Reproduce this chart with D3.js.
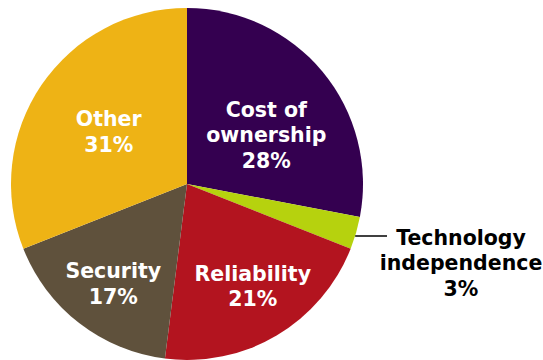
<!DOCTYPE html>
<html>
<head>
<meta charset="utf-8">
<script src="https://cdn.jsdelivr.net/npm/d3@7"></script>
<style>
  html, body { margin: 0; padding: 0; background: #fff; }
  svg { display: block; }
  text { font-family: "DejaVu Sans", Verdana, sans-serif; font-weight: bold; }
</style>
</head>
<body>
<svg id="chart" width="543" height="360"></svg>
<script>
// Share of respondents by main reason
const categories = ["Cost of ownership", "Technology independence", "Reliability", "Security", "Other"];
const values = [28, 3, 21, 17, 31];
const labelLines = [
  ["Cost of", "ownership", "28%"],
  ["Technology", "independence", "3%"],
  ["Reliability", "21%"],
  ["Security", "17%"],
  ["Other", "31%"]
];
const colors = ["#340050", "#b6d20e", "#b3141f", "#5f513c", "#eeb315"];

// Layout
const W = 543, H = 360;
const cx = 187, cy = 184, R = 176;
const fontSize = 20.5, lineH = 25.5, capH = 15;
// label nudges relative to the slice centroid (inside labels)
const nudges = [[-2, 18], null, [12, 11], [-9, 16], [9, 7]];

const svg = d3.select("#chart");
const g = svg.append("g").attr("transform", `translate(${cx},${cy})`);

const pie = d3.pie().sort(null).value(d => d)(values);
const arc = d3.arc().innerRadius(0).outerRadius(R);
const labelArc = d3.arc().innerRadius(R * 0.6).outerRadius(R * 0.6);

g.selectAll("path.slice")
  .data(pie)
  .join("path")
  .attr("class", "slice")
  .attr("d", arc)
  .attr("fill", (d, i) => colors[i]);

function drawLabel(lines, x, yc, fill) {
  const first = yc - ((lines.length - 1) * lineH + capH) / 2 + capH;
  const t = g.append("text")
    .attr("text-anchor", "middle")
    .attr("font-size", fontSize)
    .attr("fill", fill);
  lines.forEach((s, k) => {
    t.append("tspan").attr("x", x).attr("y", first + k * lineH).text(s);
  });
}

pie.forEach((d, i) => {
  if (nudges[i]) {
    const [x, y] = labelArc.centroid(d);
    drawLabel(labelLines[i], x + nudges[i][0], y + nudges[i][1], "#ffffff");
  } else {
    // outside label with a horizontal leader line
    const ly = 52;
    const edgeX = Math.sqrt(R * R - ly * ly);
    g.append("line")
      .attr("x1", edgeX).attr("y1", ly)
      .attr("x2", 200).attr("y2", ly)
      .attr("stroke", "#000").attr("stroke-width", 1.5);
    drawLabel(labelLines[i], 274, 78.5, "#000000");
  }
});
</script>
</body>
</html>
